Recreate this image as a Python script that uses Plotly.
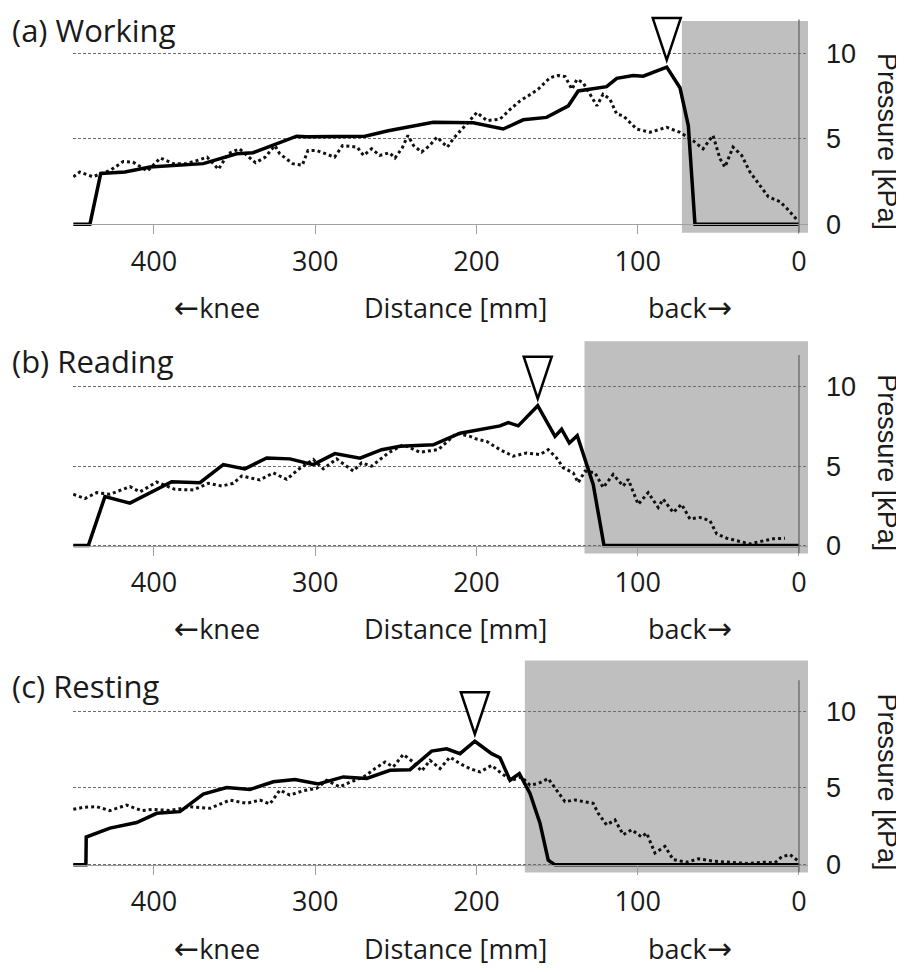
import plotly.graph_objects as go

# ---------------- data ----------------
# (a) Working
work_solid_x = [450, 439.7, 433, 418, 402.5, 369.4, 348.7, 338.6, 311.5, 305.3, 269.1, 254.7, 226.8, 202, 183.4,
                171, 156.5, 143, 136.9, 131.7, 119.3, 113, 102.8, 96.6, 90.4, 82, 73.8, 68.6, 64.5, 0]
work_solid_y = [0, 0, 2.97, 3.06, 3.35, 3.55, 4.13, 4.19, 5.16, 5.12, 5.16, 5.48, 5.97, 5.95, 5.58,
                6.12, 6.26, 6.94, 7.81, 7.87, 8.06, 8.55, 8.72, 8.68, 8.91, 9.21, 8.0, 5.77, 0, 0]
work_dot_x = [450, 446, 438, 427, 419, 413, 404, 396, 388, 380, 373, 367, 360, 354, 347, 337, 331, 325, 322, 314,
              308, 304.5, 299, 293, 288, 283, 274, 270, 265, 260, 254, 250.5, 246, 242.5, 239, 234, 229, 224.5,
              218, 214.5, 210, 199.7, 193.5, 185.4, 179, 173, 168, 161.8, 154.4, 149.4, 145, 140.8, 137.7, 133.9,
              125.3, 121.5, 117.2, 113, 109, 104.8, 100.7, 92.4, 82, 73.8, 65.7, 59.5, 53.3, 49, 45.9, 40.9,
              35.5, 30.4, 22.9, 19, 11.8, 6.6, 1.2]
work_dot_y = [2.78, 3.06, 2.78, 3.16, 3.68, 3.64, 3.12, 3.88, 3.55, 3.55, 3.74, 3.93, 3.22, 4.13, 4.42, 3.6, 3.93,
              4.61, 4.13, 3.55, 3.46, 4.32, 4.32, 4.13, 3.93, 4.61, 4.52, 4.03, 4.42, 4.03, 4.19, 3.88, 4.48, 5.2,
              4.61, 4.23, 4.61, 5.1, 4.52, 5.0, 5.48, 6.55, 6.07, 6.16, 6.74, 7.23, 7.52, 7.91, 8.59, 8.72, 8.65,
              7.91, 8.49, 8.3, 6.94, 7.62, 7.33, 6.45, 6.36, 5.97, 5.58, 5.39, 5.68, 5.39, 4.9, 4.42, 5.2, 3.84,
              3.35, 4.52, 4.03, 3.06, 2.09, 1.61, 1.32, 0.83, 0.25]
work_shade_from = 72.6

# (b) Reading
read_solid_x = [450, 440.7, 430.4, 414.9, 389, 371.5, 357, 343.6, 330.1, 315.7, 301.2, 287.8, 272.2, 258.8, 247.4,
                226.8, 210.2, 197.8, 185.4, 180.3, 174.1, 162, 151.3, 147.2, 142.4, 137.5, 127.6, 120.9, 0]
read_solid_y = [0, 0, 3.08, 2.67, 4.02, 3.96, 5.1, 4.83, 5.52, 5.46, 5.1, 5.79, 5.5, 6.04, 6.25,
                6.35, 7.08, 7.29, 7.54, 7.75, 7.54, 8.81, 6.88, 7.33, 6.46, 6.92, 3.85, 0, 0]
read_dot_x = [450, 442.8, 435.5, 427.3, 414.9, 408.7, 398.3, 387, 375.6, 366.3, 358, 350.8, 345.6, 334.3, 326,
              317.7, 310.5, 301.2, 295, 286.7, 276.4, 271.2, 265, 254.7, 245.4, 235, 223.7, 212.3, 204, 199.9,
              193.7, 185.4, 177.2, 168.9, 160.6, 155.5, 150.3, 146.2, 140, 136.9, 132.7, 126.5, 121.4, 115.2,
              109, 105.9, 99.7, 93.5, 87.3, 84.2, 78, 72.8, 67.6, 61.4, 55.2, 51, 44.8, 38.6, 30.4, 24.2, 15.9, 8.7]
read_dot_y = [3.23, 2.96, 3.33, 3.23, 3.71, 3.38, 4.0, 3.54, 3.5, 3.92, 3.75, 3.92, 4.38, 4.13, 4.58,
              4.17, 4.79, 5.42, 4.83, 5.46, 4.69, 5.21, 5.0, 5.83, 6.35, 5.88, 6.04, 7.08, 6.88, 6.71,
              6.56, 6.04, 5.63, 5.83, 5.73, 6.04, 5.52, 4.9, 4.58, 3.96, 4.69, 4.58, 3.65, 4.48,
              3.75, 4.17, 2.6, 3.33, 2.4, 2.92, 2.08, 2.6, 1.67, 1.77, 1.56, 0.73, 0.46, 0.31, 0.1, 0.25, 0.42, 0.46]
read_shade_from = 133

# (c) Resting
rest_solid_x = [450, 442.2, 442, 427.3, 410.7, 398.3, 383.9, 369.4, 354.9, 340.5, 326, 312.6, 298.1, 282.6, 268.1,
                253.6, 241.2, 227.8, 218.5, 210.2, 201, 190.6, 185.4, 179.2, 173.4, 166.8, 160.6, 155.5, 151.3, 0]
rest_solid_y = [0, 0, 1.81, 2.39, 2.75, 3.35, 3.46, 4.6, 5.03, 4.9, 5.4, 5.55, 5.26, 5.72, 5.62,
                6.15, 6.19, 7.4, 7.55, 7.23, 8.04, 7.23, 6.97, 5.5, 5.94, 4.65, 2.71, 0.3, 0, 0]
rest_dot_x = [450, 443.8, 435.5, 427.3, 417, 407.6, 400.4, 390.1, 377.7, 365.3, 352.9, 342.5, 334.3, 328.1, 321.9,
              315.7, 307.4, 299.1, 292.9, 284.7, 278.4, 270.2, 262.9, 256.7, 251.6, 245.4, 239.2, 234, 228.8,
              222.6, 216.4, 210.2, 204, 197.8, 190.6, 184.4, 178.2, 172, 166.8, 161.7, 155.5, 150.3, 145.1,
              138.9, 133.8, 127.6, 124.5, 119.3, 114.1, 109, 103.8, 97.6, 94.5, 89.3, 83.1, 78, 69.6, 62.4,
              53.1, 42.8, 32.4, 22.1, 14.9, 10.7, 5.6, 0.4]
rest_dot_y = [3.61, 3.74, 3.78, 3.53, 3.89, 3.53, 3.61, 3.53, 3.78, 3.68, 4.21, 4.0, 4.21, 3.96, 4.86,
              4.54, 4.82, 4.97, 5.5, 5.07, 5.38, 5.7, 6.26, 6.69, 6.37, 7.18, 6.69, 6.1, 6.8,
              6.26, 7.01, 6.58, 6.26, 6.04, 6.47, 5.94, 5.5, 5.72, 5.18, 5.29, 5.61, 4.86, 4.11,
              4.22, 4.11, 4.0, 3.35, 2.6, 2.92, 1.96, 2.28, 1.81, 2.07, 0.77, 1.2, 0.34, 0.17, 0.39,
              0.24, 0.17, 0.09, 0.17, 0.13, 0.52, 0.67, 0.24]
rest_shade_from = 170

titles = ["(a) Working", "(b) Reading", "(c) Resting"]
x_ticks = [400, 300, 200, 100, 0]
y_ticks = [0, 5, 10]
x_range = [450.2, -5.6]
y_min, y_axis_top, y_max = -0.5, 12, 12.35

# ---------------- layout geometry ----------------
# The page body keeps its default 8px margin; the figure is sized so that it
# ends exactly at the right and bottom edges of the 904x972 window.
OFF = 8
PAGE_W, PAGE_H = 904, 972
W, H = PAGE_W - OFF, PAGE_H - OFF


def fx(p):
    return (p - OFF) / W


def fy(p):
    return 1 - (p - OFF) / H


panels = [
    dict(title=titles[0], sx=work_solid_x, sy=work_solid_y, dx=work_dot_x, dy=work_dot_y,
         shade=work_shade_from, zero=226, ppu=17.2, shade_top=21, title_y=30),
    dict(title=titles[1], sx=read_solid_x, sy=read_solid_y, dx=read_dot_x, dy=read_dot_y,
         shade=read_shade_from, zero=550, ppu=16.0, shade_top=344, title_y=364),
    dict(title=titles[2], sx=rest_solid_x, sy=rest_solid_y, dx=rest_dot_x, dy=rest_dot_y,
         shade=rest_shade_from, zero=872, ppu=15.5, shade_top=666, title_y=692),
]

x_dom = [fx(73), fx(808)]
fig = go.Figure()
shapes, annotations = [], []
TXT = "#1a1a1a"
ARROW = "<span style='font-family:DejaVu Sans;font-size:30px'>{}</span>"

for i, p in enumerate(panels):
    n = "" if i == 0 else str(i + 1)
    xa, ya = "x" + n, "y" + n
    bottom_px = p["zero"] - y_min * p["ppu"]
    top_px = p["zero"] - y_max * p["ppu"]

    fig.add_trace(go.Scatter(x=p["dx"], y=p["dy"], mode="lines", xaxis=xa, yaxis=ya,
                             line=dict(color="#111111", width=3, dash="3px,3px"), showlegend=False))
    fig.add_trace(go.Scatter(x=p["sx"], y=p["sy"], mode="lines", xaxis=xa, yaxis=ya,
                             line=dict(color="#000000", width=3.5), showlegend=False))

    fig.layout["xaxis" + n] = dict(
        domain=x_dom, range=x_range, anchor="free", position=fy(p["zero"]),
        showline=True, linecolor="#a0a0a0", linewidth=1.3, ticks="outside", ticklen=9,
        tickcolor="#a0a0a0", tickwidth=1.2, tickvals=x_ticks, ticktext=[str(v) for v in x_ticks],
        tickfont=dict(family="Open Sans", size=27, color=TXT), ticklabelstandoff=4,
        showgrid=False, zeroline=False, fixedrange=True)
    fig.layout["yaxis" + n] = dict(
        domain=[fy(bottom_px), fy(top_px)], range=[y_min, y_max], anchor=xa, side="right",
        tickvals=y_ticks, ticks="", showline=False, zeroline=False,
        showgrid=True, gridcolor="#6f6f6f", gridwidth=1, griddash="3px,2px",
        tickfont=dict(family="Liberation Sans", size=27, color=TXT), ticklabelstandoff=17,
        fixedrange=True)

    # shaded back region
    shapes.append(dict(type="rect", xref=xa, yref="paper", x0=p["shade"], x1=x_range[1],
                       y0=fy(bottom_px), y1=fy(p["shade_top"]), fillcolor="#bfbfbf",
                       line=dict(width=0), layer="below"))
    # vertical axis line at distance 0
    shapes.append(dict(type="line", xref=xa, yref=ya, x0=0, x1=0, y0=y_min, y1=y_axis_top,
                       line=dict(color="#606060", width=1.2)))
    # peak marker (open down triangle) placed at the maximum of the solid curve
    k = max(range(len(p["sy"])), key=lambda j: p["sy"][j])
    shapes.append(dict(type="path", xref=xa, yref=ya, xsizemode="pixel", ysizemode="pixel",
                       xanchor=p["sx"][k], yanchor=p["sy"][k],
                       path="M -14,49 L 14,49 L 0,7 Z", fillcolor="white",
                       line=dict(color="black", width=2.5)))

    annotations.append(dict(text=p["title"], xref="paper", yref="paper", x=fx(10), y=fy(p["title_y"]),
                            xanchor="left", yanchor="middle", showarrow=False,
                            font=dict(family="Open Sans", size=31, color=TXT)))
    annotations.append(dict(text="Pressure [kPa]", xref="paper", yref="paper", x=fx(887),
                            y=fy(p["zero"] - 84), xanchor="center", yanchor="middle",
                            textangle=90, showarrow=False,
                            font=dict(family="Liberation Sans", size=27, color=TXT)))
    row = p["zero"] + 84
    for txt, cx in [(ARROW.format("←") + "knee", 217),
                    ("Distance [mm]", 455),
                    ("back" + ARROW.format("→"), 690)]:
        annotations.append(dict(text=txt, xref="paper", yref="paper", x=fx(cx), y=fy(row),
                                xanchor="center", yanchor="middle", showarrow=False,
                                font=dict(family="Open Sans", size=27, color=TXT)))

fig.update_layout(width=W, height=H, margin=dict(l=0, r=0, t=0, b=0),
                  paper_bgcolor="white", plot_bgcolor="rgba(0,0,0,0)",
                  shapes=shapes, annotations=annotations, showlegend=False)

fig.write_html("out.html")
